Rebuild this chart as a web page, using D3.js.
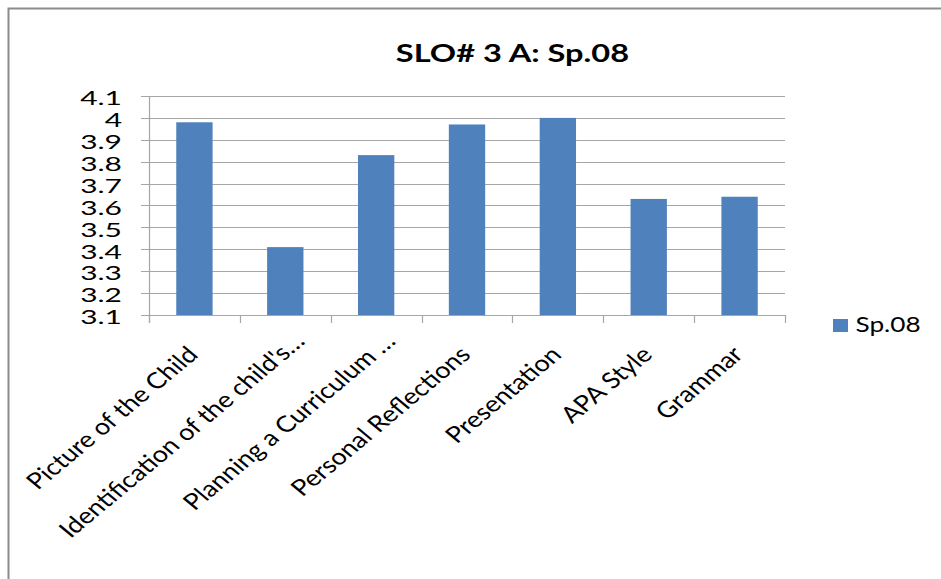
<!DOCTYPE html>
<html>
<head>
<meta charset="utf-8">
<script src="https://cdn.jsdelivr.net/npm/d3@7"></script>
<style>
  html, body { margin: 0; padding: 0; background: #fff; }
  svg { display: block; }
  text { font-family: Lato, "Open Sans", sans-serif; fill: #000; }
</style>
</head>
<body>
<svg id="chart" width="941" height="579"></svg>
<script>
// Scores per assessment criterion
const categories = [
  "Picture of the Child",
  "Identification of the child's…",
  "Planning a Curriculum …",
  "Personal Reflections",
  "Presentation",
  "APA Style",
  "Grammar"
];
const values = [3.98, 3.41, 3.83, 3.97, 4.0, 3.63, 3.64];
const yTicks = [3.1, 3.2, 3.3, 3.4, 3.5, 3.6, 3.7, 3.8, 3.9, 4, 4.1];
const seriesName = "Sp.08";
const chartTitle = "SLO# 3 A: Sp.08";

const svg = d3.select("#chart");
const W = 941, H = 579;
const plot = { left: 149, right: 785, top: 96, bottom: 315 };
const barColor = "#4F81BD";
const gridColor = "#A6A6A6";
const stretch = 1.2; // horizontal widening applied to the category labels

// Outer frame
svg.append("rect")
  .attr("x", 8.5).attr("y", 8.5)
  .attr("width", W + 20).attr("height", H + 20)
  .attr("fill", "#fff").attr("stroke", "#8C8C8C").attr("stroke-width", 2);

const x = d3.scaleBand().domain(categories).range([plot.left, plot.right]).paddingInner(0.6).paddingOuter(0.3);
const xOuter = d3.scaleBand().domain(categories).range([plot.left, plot.right]);
const y = d3.scaleLinear().domain([3.1, 4.1]).range([plot.bottom, plot.top]);

// Horizontal gridlines with short ticks on the left
svg.append("g").selectAll("line").data(yTicks).join("line")
  .attr("x1", plot.left - 8).attr("x2", plot.right)
  .attr("y1", d => Math.round(y(d)) + 0.5).attr("y2", d => Math.round(y(d)) + 0.5)
  .attr("stroke", gridColor).attr("stroke-width", 1.2);

// Y axis labels
svg.append("g").selectAll("text").data(yTicks).join("text")
  .attr("transform", d => `translate(${plot.left - 27},${y(d) + 9.2}) scale(1.62,1)`)
  .attr("text-anchor", "end")
  .attr("font-size", 18.5)
  .text(d => d3.format("")(d));

// Vertical axis line
svg.append("line")
  .attr("x1", plot.left + 0.5).attr("x2", plot.left + 0.5)
  .attr("y1", plot.top).attr("y2", plot.bottom + 8)
  .attr("stroke", gridColor).attr("stroke-width", 1.2);

// Category tick marks
const tickXs = categories.map(c => xOuter(c)).concat([plot.right]);
svg.append("g").selectAll("line").data(tickXs).join("line")
  .attr("x1", d => Math.round(d) + 0.5).attr("x2", d => Math.round(d) + 0.5)
  .attr("y1", plot.bottom).attr("y2", plot.bottom + 8)
  .attr("stroke", gridColor).attr("stroke-width", 1.2);

// Bars
svg.append("g").selectAll("rect").data(values).join("rect")
  .attr("x", (d, i) => x(categories[i]))
  .attr("width", x.bandwidth())
  .attr("y", d => y(d))
  .attr("height", d => y(3.1) - y(d))
  .attr("fill", barColor);

// Rotated category labels (truncated labels sit a little further along their baseline)
svg.append("g").selectAll("text").data(categories).join("text")
  .attr("transform", d => {
    const shift = d.endsWith("…") ? 16 : 0;
    const ax = xOuter(d) + xOuter.bandwidth() / 2 + 5 + shift;
    const ay = plot.bottom + 41 - shift / stretch;
    return `translate(${ax},${ay}) scale(${stretch},1) rotate(-45)`;
  })
  .attr("text-anchor", "end")
  .attr("font-size", 22.5)
  .text(d => d);

// Title
svg.append("text")
  .attr("transform", "translate(512.5,62) scale(1.33,1)")
  .attr("text-anchor", "middle")
  .attr("font-size", 24.5).attr("font-weight", "bold")
  .text(chartTitle);

// Legend
svg.append("rect")
  .attr("x", 833).attr("y", 319).attr("width", 15).attr("height", 13)
  .attr("fill", barColor);
svg.append("text")
  .attr("transform", "translate(855.5,331.7) scale(1.26,1)")
  .attr("font-size", 20.8)
  .text(seriesName);
</script>
</body>
</html>
